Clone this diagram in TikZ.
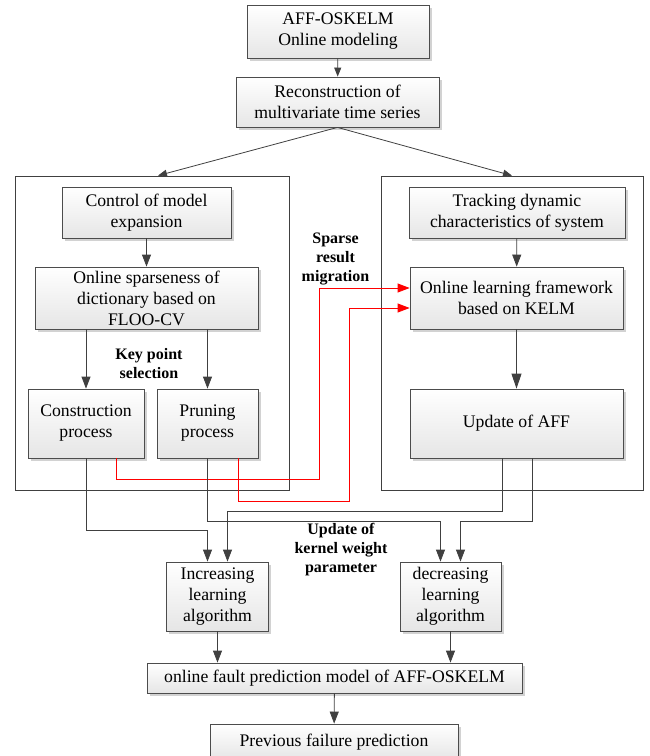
\documentclass[tikz,border=0pt]{standalone}
\usepackage{fontspec}
\setmainfont{Liberation Serif}
\usetikzlibrary{arrows.meta,shadows}
\begin{document}
\begin{tikzpicture}[x=1pt,y=-1pt,line width=0.8pt,
    box/.style={draw=black!70,top color=white,bottom color=black!10,
      drop shadow={shadow xshift=2.5pt,shadow yshift=-2.5pt,fill=black!35},
      align=center,inner sep=0pt,font=\fontsize{17.7}{21}\selectfont},
    frame/.style={draw=black!75,inner sep=0pt},
    lbl/.style={align=center,font=\fontsize{16}{19}\selectfont\bfseries},
    arr/.style={draw=black!75,-{Triangle[length=12pt,width=9pt]}},
    barr/.style={draw=black!75,-{Triangle[length=15pt,width=10pt]}},
    sarr/.style={draw=black!75,-{Triangle[length=9pt,width=7pt]}},
    rarr/.style={draw=red,-{Triangle[length=12pt,width=9pt]}}]
    \useasboundingbox (0,0) rectangle (649,756);
    \clip (0,0) rectangle (649,756);
    \node[frame,minimum width=274pt,minimum height=314pt] (lframe) at (152,333) {};
    \node[frame,minimum width=262pt,minimum height=314pt] (rframe) at (512,333) {};
    \node[box,minimum width=182pt,minimum height=53pt] (top) at (338,31.5) {AFF-OSKELM\\Online modeling};
    \node[box,minimum width=203pt,minimum height=50pt] (recon) at (337.5,102) {Reconstruction of\\multivariate time series};
    \node[box,minimum width=169pt,minimum height=51pt] (ctrl) at (146.5,212.5) {Control of model\\expansion};
    \node[box,minimum width=223pt,minimum height=62pt] (sparse) at (146.5,298) {Online sparseness of\\dictionary based on\\FLOO-CV};
    \node[box,minimum width=116pt,minimum height=69pt] (constr) at (86,423.5) {Construction\\process};
    \node[box,minimum width=101pt,minimum height=69pt] (prune) at (207.5,423.5) {Pruning\\process};
    \node[box,minimum width=216pt,minimum height=51pt] (track) at (517,212.5) {Tracking dynamic\\characteristics of system};
    \node[box,minimum width=213pt,minimum height=62pt] (olf) at (516.5,298) {Online learning framework\\based on KELM};
    \node[box,minimum width=213pt,minimum height=69pt] (aff) at (516.5,423.5) {Update of AFF};
    \node[box,minimum width=102pt,minimum height=69pt] (incr) at (217.5,596.5) {Increasing\\learning\\algorithm};
    \node[box,minimum width=101pt,minimum height=69pt] (decr) at (450.5,596.5) {decreasing\\learning\\algorithm};
    \node[box,minimum width=375pt,minimum height=30pt] (fault) at (334.5,678) {online fault prediction model of AFF-OSKELM};
    \node[box,minimum width=248pt,minimum height=36pt] (prev) at (334,742) {Previous failure prediction};
    \node[lbl] (keysel) at (149,364) {Key point\\selection};
    \node[lbl] (migr) at (335.5,259) {Sparse\\result\\migration};
    \node[lbl] (kwp) at (341,550) {Update of\\kernel weight\\parameter};
    \draw[sarr] (top) -- (recon);
    \draw[sarr] (recon.south) -- ([xshift=6pt]lframe.north);
    \draw[sarr] (recon.south) -- (rframe.north);
    \draw[arr] (ctrl) -- (sparse);
    \draw[arr] (constr.north |- sparse.south) -- (constr.north);
    \draw[arr] (prune.north |- sparse.south) -- (prune.north);
    \draw[arr] (track) -- (olf);
    \draw[barr] (olf) -- (aff);
    \draw[rarr] ([xshift=30pt]constr.south) -- ++(0,21) -| (319,288) -- ([yshift=10pt]olf.west);
    \draw[rarr] ([xshift=31pt]prune.south) -- ++(0,43) -| (349,308) -- ([yshift=-10pt]olf.west);
    \draw[arr] (constr.south) -- ++(0,72) -| ([xshift=-10pt]incr.north);
    \draw[arr] ([xshift=-14.5pt]aff.south) -- ++(0,53) -| ([xshift=10pt]incr.north);
    \draw[arr] (prune.south) -- ++(0,63) -| ([xshift=-10pt]decr.north);
    \draw[arr] ([xshift=15.5pt]aff.south) -- ++(0,63) -| ([xshift=10pt]decr.north);
    \draw[arr] (incr.south) -- (incr.south |- fault.north);
    \draw[arr] (decr.south) -- (decr.south |- fault.north);
    \draw[arr] (fault) -- (prev);
  \end{tikzpicture}
\end{document}
